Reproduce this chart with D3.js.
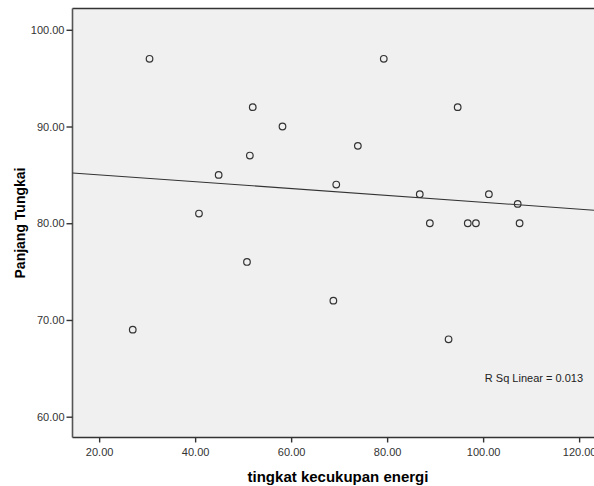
<html>
<head>
    <title>Scatter</title>
    <script type="text/javascript" src="https://cdn.jsdelivr.net/npm/d3@7/dist/d3.min.js"></script>
    <style>
        body { margin: 0; background: white; }
        text { font-family: Arial, "Liberation Sans", sans-serif; }
        .tick-label { font-size: 11px; fill: #333; }
        .axis-title { font-weight: bold; fill: #000; }
    </style>
</head>
<body>
    <div id="chart"></div>
    <script>
        // energi (x) vs tungkai (y)
        var energi  = [30.5, 27.0, 52.0, 58.2, 51.4, 44.9, 40.8, 50.8, 79.3, 73.9, 69.4,
                       68.8, 92.8, 94.7, 86.8, 88.9, 96.8, 98.5, 101.2, 107.2, 107.6];
        var tungkai = [97, 69, 92, 90, 87, 85, 81, 76, 97, 88, 84,
                       72, 68, 92, 83, 80, 80, 80, 83, 82, 80];
        var x_ticks = [20, 40, 60, 80, 100, 120];
        var y_ticks = [60, 70, 80, 90, 100];
        var x_title = "tingkat kecukupan energi";
        var y_title = "Panjang Tungkai";
        var r2_label = "R Sq Linear = 0.013";

        var width = 594, height = 486;
        var p_left = 72.5, p_right = 600, p_top = 8.5, p_bottom = 437.5;

        var svg = d3.select("#chart").append("svg")
                    .attr("width", width)
                    .attr("height", height);

        var x = d3.scaleLinear().domain([14.45, 123.1]).range([p_left, 594]);
        var y = d3.scaleLinear().domain([57.85, 102.2]).range([p_bottom, p_top]);

        // plot background
        svg.append("rect")
            .attr("x", p_left).attr("y", p_top)
            .attr("width", p_right - p_left).attr("height", p_bottom - p_top)
            .attr("fill", "#f0f0f0");
        svg.append("line")
            .attr("x1", p_left).attr("x2", p_right).attr("y1", p_top).attr("y2", p_top)
            .attr("stroke", "#333").attr("stroke-width", 1.3);

        // axes
        var xAxis = d3.axisBottom(x).tickValues(x_ticks).tickFormat(d3.format(".2f"))
                      .tickSizeInner(5).tickSizeOuter(0).tickPadding(6);
        var yAxis = d3.axisLeft(y).tickValues(y_ticks).tickFormat(d3.format(".2f"))
                      .tickSizeInner(6).tickSizeOuter(0).tickPadding(2);

        var gx = svg.append("g").attr("transform", "translate(0," + p_bottom + ")").call(xAxis);
        var gy = svg.append("g").attr("transform", "translate(" + p_left + ",0)").call(yAxis);
        gx.select(".domain").attr("d", "M" + p_left + ",0H" + p_right).attr("stroke", "#333").attr("stroke-width", 1.3);
        gy.select(".domain").attr("d", "M0," + p_top + "V" + p_bottom).attr("stroke", "#555").attr("stroke-width", 1.6);
        [gx, gy].forEach(function(g){
            g.selectAll(".tick line").attr("stroke", "#333").attr("stroke-width", 1.4);
            g.selectAll(".tick text").attr("class", "tick-label")
             .attr("font-family", null).attr("font-size", null).attr("fill", null);
        });

        // fit line (least squares on the points)
        var mx = d3.mean(energi), my = d3.mean(tungkai);
        var sxy = d3.sum(energi, function(v, i){ return (v - mx) * (tungkai[i] - my); });
        var sxx = d3.sum(energi, function(v){ return (v - mx) * (v - mx); });
        var slope = sxy / sxx, icpt = my - slope * mx;
        var xd = x.domain();
        svg.append("line")
            .attr("x1", x(xd[0])).attr("y1", y(icpt + slope * xd[0]))
            .attr("x2", x(xd[1])).attr("y2", y(icpt + slope * xd[1]))
            .attr("stroke", "#333").attr("stroke-width", 1.1);

        // points
        svg.append("g").selectAll("circle")
            .data(energi)
            .enter().append("circle")
            .attr("cx", function(d){ return x(d); })
            .attr("cy", function(d, i){ return y(tungkai[i]); })
            .attr("r", 3.3)
            .attr("fill", "none")
            .attr("stroke", "#333")
            .attr("stroke-width", 1.2);

        svg.append("text")
            .attr("x", 583).attr("y", 382)
            .attr("text-anchor", "end")
            .attr("font-size", 11)
            .attr("fill", "#222")
            .text(r2_label);

        svg.append("text")
            .attr("class", "axis-title")
            .attr("x", 338).attr("y", 482)
            .attr("text-anchor", "middle")
            .attr("font-size", 15)
            .text(x_title);

        svg.append("text")
            .attr("class", "axis-title")
            .attr("transform", "translate(25," + ((p_top + p_bottom) / 2) + ") rotate(-90)")
            .attr("text-anchor", "middle")
            .attr("font-size", 14)
            .text(y_title);
    </script>
</body>
</html>
